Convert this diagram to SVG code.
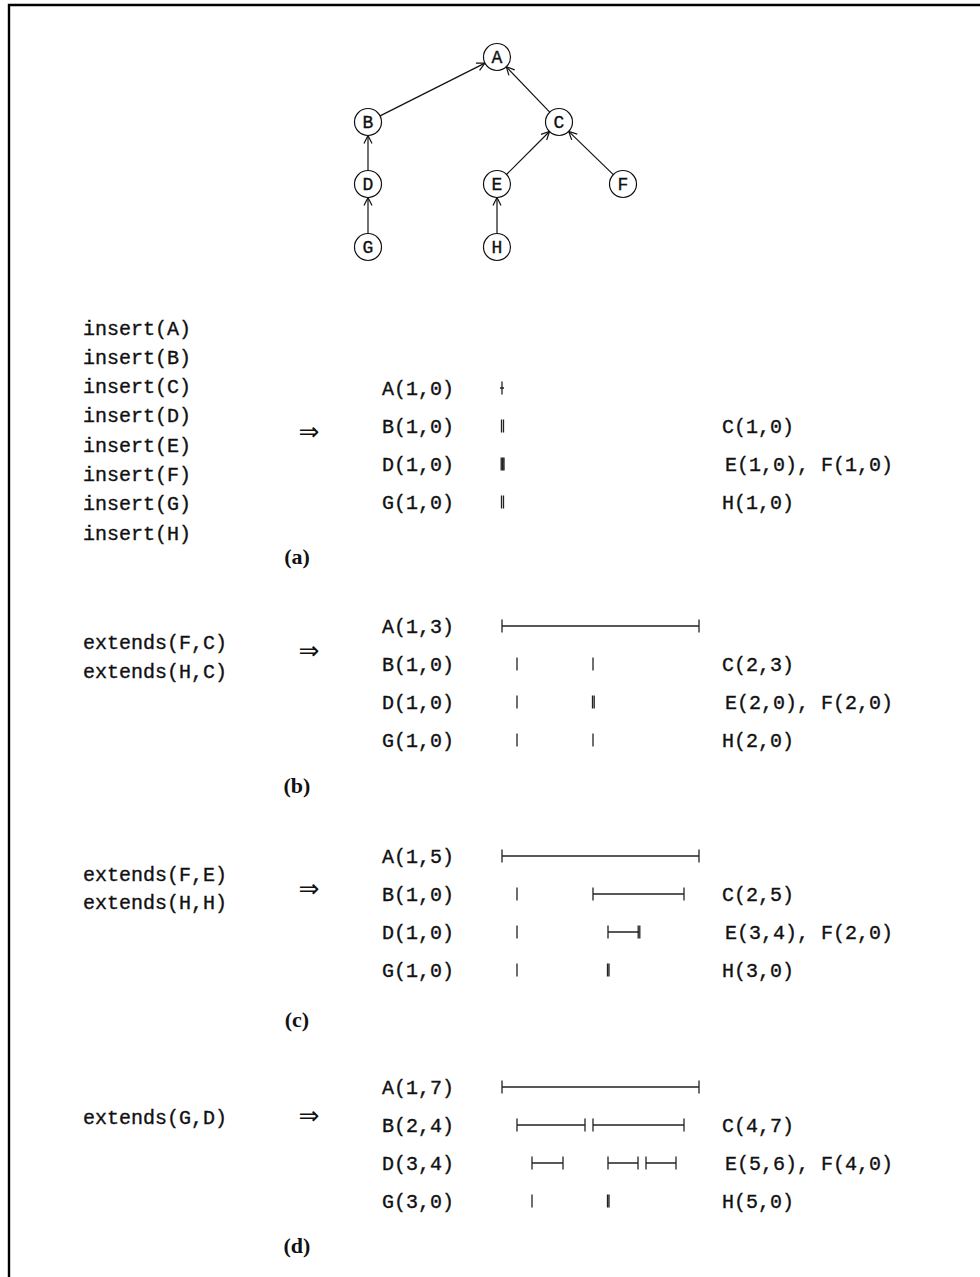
<svg xmlns="http://www.w3.org/2000/svg" width="980" height="1277" viewBox="0 0 980 1277">
<defs>
<style>
.mono{font-family:"Liberation Mono","DejaVu Sans Mono",monospace;font-size:20px;fill:#111;stroke:#111;stroke-width:0.35}
.nl{font-family:"Liberation Mono","DejaVu Sans Mono",monospace;font-size:18px;fill:#111;stroke:#111;stroke-width:0.35;text-anchor:middle}
.arr{font-family:"DejaVu Sans",sans-serif;font-size:25px;fill:#111;text-anchor:middle}
.cap{font-family:"Liberation Serif",serif;font-size:22px;font-weight:bold;fill:#111;text-anchor:middle}
.node circle{fill:#fff;stroke:#111;stroke-width:1.2}
.edge{stroke:#111;stroke-width:1.2;fill:none;marker-end:url(#ah)}
.iv{stroke:#222;stroke-width:1.3;fill:none}
</style>
<marker id="ah" viewBox="0 0 10 10" refX="9" refY="5" markerWidth="10" markerHeight="10" markerUnits="userSpaceOnUse" orient="auto">
<path d="M1,1 L9,5 L1,9" fill="none" stroke="#111" stroke-width="1.2"/>
</marker>
</defs>
<rect width="980" height="1277" fill="#fff"/>
<path d="M9,1277 V5 H980" fill="none" stroke="#000" stroke-width="2.4"/>

<g id="connectors">
<line class="edge" x1="380.1" y1="115.9" x2="484.9" y2="63.1"/>
<line class="edge" x1="549.7" y1="112.2" x2="506.3" y2="66.8"/>
<line class="edge" x1="368" y1="170.5" x2="368" y2="135.5"/>
<line class="edge" x1="368" y1="233.5" x2="368" y2="197.5"/>
<line class="edge" x1="506.5" y1="174.5" x2="549.5" y2="131.5"/>
<line class="edge" x1="613.3" y1="174.6" x2="568.7" y2="131.4"/>
<line class="edge" x1="497" y1="233.5" x2="497" y2="197.5"/>
</g>

<g id="node-A" class="node"><circle cx="497" cy="57" r="13.5"/><text class="nl" x="497" y="63">A</text></g>
<g id="node-B" class="node"><circle cx="368" cy="122" r="13.5"/><text class="nl" x="368" y="128">B</text></g>
<g id="node-C" class="node"><circle cx="559" cy="122" r="13.5"/><text class="nl" x="559" y="128">C</text></g>
<g id="node-D" class="node"><circle cx="368" cy="184" r="13.5"/><text class="nl" x="368" y="190">D</text></g>
<g id="node-E" class="node"><circle cx="497" cy="184" r="13.5"/><text class="nl" x="497" y="190">E</text></g>
<g id="node-F" class="node"><circle cx="623" cy="184" r="13.5"/><text class="nl" x="623" y="190">F</text></g>
<g id="node-G" class="node"><circle cx="368" cy="247" r="13.5"/><text class="nl" x="368" y="253">G</text></g>
<g id="node-H" class="node"><circle cx="497" cy="247" r="13.5"/><text class="nl" x="497" y="253">H</text></g>

<g id="section-a">
<text class="mono" x="83" y="334.5">insert(A)</text>
<text class="mono" x="83" y="363.8">insert(B)</text>
<text class="mono" x="83" y="393.1">insert(C)</text>
<text class="mono" x="83" y="422.4">insert(D)</text>
<text class="mono" x="83" y="451.7">insert(E)</text>
<text class="mono" x="83" y="481">insert(F)</text>
<text class="mono" x="83" y="510.3">insert(G)</text>
<text class="mono" x="83" y="539.6">insert(H)</text>
<text class="arr" x="309" y="439.5">⇒</text>
<text class="cap" x="297" y="563.5">(a)</text>
<text class="mono" x="382" y="394.5">A(1,0)</text>
<text class="mono" x="382" y="432.5">B(1,0)</text>
<text class="mono" x="382" y="470.5">D(1,0)</text>
<text class="mono" x="382" y="508.5">G(1,0)</text>
<text class="mono" x="722" y="432.5">C(1,0)</text>
<text class="mono" x="725" y="470.5">E(1,0), F(1,0)</text>
<text class="mono" x="722" y="508.5">H(1,0)</text>
<path class="iv" d="M502,381.5v13 M500,388h4"/>
<path class="iv" d="M501.5,419.5v13 M503.5,419.5v13"/>
<path class="iv" d="M501.2,457.5v13 M502.6,457.5v13 M504,457.5v13"/>
<path class="iv" d="M501.5,495.5v13 M503.5,495.5v13"/>
</g>

<g id="section-b">
<text class="mono" x="83" y="649">extends(F,C)</text>
<text class="mono" x="83" y="678">extends(H,C)</text>
<text class="arr" x="309" y="658.5">⇒</text>
<text class="cap" x="297" y="792.5">(b)</text>
<text class="mono" x="382" y="632.5">A(1,3)</text>
<text class="mono" x="382" y="670.5">B(1,0)</text>
<text class="mono" x="382" y="708.5">D(1,0)</text>
<text class="mono" x="382" y="746.5">G(1,0)</text>
<text class="mono" x="722" y="670.5">C(2,3)</text>
<text class="mono" x="725" y="708.5">E(2,0), F(2,0)</text>
<text class="mono" x="722" y="746.5">H(2,0)</text>
<path class="iv" d="M502,626H699 M502,619.5v13 M699,619.5v13"/>
<path class="iv" d="M517,657.5v13 M593,657.5v13"/>
<path class="iv" d="M517,695.5v13 M592.5,695.5v13 M594.2,695.5v13"/>
<path class="iv" d="M517,733.5v13 M593,733.5v13"/>
</g>

<g id="section-c">
<text class="mono" x="83" y="881">extends(F,E)</text>
<text class="mono" x="83" y="909">extends(H,H)</text>
<text class="arr" x="309" y="896.5">⇒</text>
<text class="cap" x="297" y="1026.5">(c)</text>
<text class="mono" x="382" y="862.5">A(1,5)</text>
<text class="mono" x="382" y="900.5">B(1,0)</text>
<text class="mono" x="382" y="938.5">D(1,0)</text>
<text class="mono" x="382" y="976.5">G(1,0)</text>
<text class="mono" x="722" y="900.5">C(2,5)</text>
<text class="mono" x="725" y="938.5">E(3,4), F(2,0)</text>
<text class="mono" x="722" y="976.5">H(3,0)</text>
<path class="iv" d="M502,856H699 M502,849.5v13 M699,849.5v13"/>
<path class="iv" d="M517,887.5v13 M593,894H684 M593,887.5v13 M684,887.5v13"/>
<path class="iv" d="M517,925.5v13 M608,932H639 M608,925.5v13 M638.2,925.5v13 M639.8,925.5v13"/>
<path class="iv" d="M517,963.5v13 M607.5,963.5v13 M609,963.5v13"/>
</g>

<g id="section-d">
<text class="mono" x="83" y="1123.5">extends(G,D)</text>
<text class="arr" x="309" y="1123.5">⇒</text>
<text class="cap" x="297" y="1252.5">(d)</text>
<text class="mono" x="382" y="1093.5">A(1,7)</text>
<text class="mono" x="382" y="1131.5">B(2,4)</text>
<text class="mono" x="382" y="1169.5">D(3,4)</text>
<text class="mono" x="382" y="1207.5">G(3,0)</text>
<text class="mono" x="722" y="1131.5">C(4,7)</text>
<text class="mono" x="725" y="1169.5">E(5,6), F(4,0)</text>
<text class="mono" x="722" y="1207.5">H(5,0)</text>
<path class="iv" d="M502,1087H699 M502,1080.5v13 M699,1080.5v13"/>
<path class="iv" d="M517,1125H585 M517,1118.5v13 M585,1118.5v13 M593,1125H684 M593,1118.5v13 M684,1118.5v13"/>
<path class="iv" d="M532,1163H563 M532,1156.5v13 M563,1156.5v13 M608,1163H638 M608,1156.5v13 M638,1156.5v13 M646,1163H676 M646,1156.5v13 M676,1156.5v13"/>
<path class="iv" d="M532,1194.5v13 M607.5,1194.5v13 M609,1194.5v13"/>
</g>
</svg>
